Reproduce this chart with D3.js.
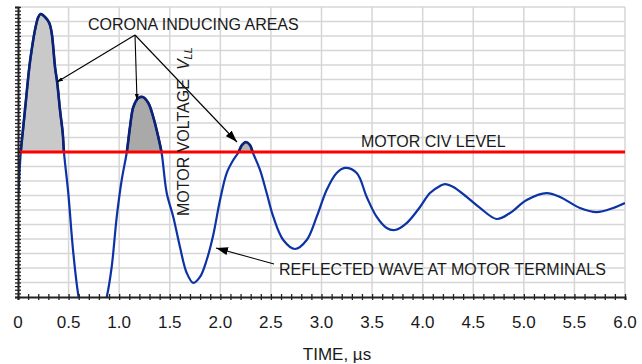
<!DOCTYPE html>
<html>
<head>
<meta charset="utf-8">
<script src="https://cdn.jsdelivr.net/npm/d3@7"></script>
<style>
  body { margin: 0; background: #fff; }
  svg text { font-family: "Liberation Sans", Arial, sans-serif; fill: #1a1a1a; }
  .grid line { stroke: #d6d6d6; stroke-width: 1.5; }
  .axis path, .axis line { stroke: #222; }
  .axis path { stroke-width: 2; }
  .axis line { stroke-width: 1.3; }
</style>
</head>
<body>
<div id="chart"></div>
<script>
// waveform: time in µs, voltage in per-unit (CIV = 1.0)
let times = [0, 0.027, 0.052, 0.079, 0.112, 0.135, 0.168, 0.201, 0.224, 0.267, 0.309, 0.333,
    0.366, 0.388, 0.415, 0.442, 0.455, 0.497, 0.544, 0.596, 0.66, 0.73, 0.80, 0.877,
    0.926, 0.976, 1.025, 1.074, 1.107, 1.140, 1.189, 1.233, 1.288, 1.337, 1.387, 1.420,
    1.470, 1.535, 1.601, 1.668, 1.733, 1.799, 1.865, 1.930, 1.997, 2.063, 2.128, 2.175,
    2.214, 2.254, 2.293, 2.323, 2.392, 2.458, 2.524, 2.622, 2.738, 2.854, 2.952, 3.051,
    3.150, 3.232, 3.348, 3.447, 3.546, 3.644, 3.726, 3.842, 3.974, 4.072, 4.171, 4.221,
    4.303, 4.435, 4.567, 4.732, 4.863, 5.028, 5.226, 5.357, 5.555, 5.720, 5.884, 6.0];
let voltages = [0.648, 0.993, 1.172, 1.359, 1.586, 1.703, 1.841, 1.931, 1.952, 1.931, 1.890, 1.821,
    1.586, 1.476, 1.290, 1.131, 0.993, 0.717, 0.324, 0.014, -0.20, -0.28, -0.18, 0.0,
    0.207, 0.552, 0.807, 0.993, 1.172, 1.310, 1.372, 1.379, 1.338, 1.241, 1.103, 0.993,
    0.717, 0.552, 0.345, 0.166, 0.097, 0.138, 0.255, 0.428, 0.669, 0.855, 0.945, 0.993,
    1.048, 1.069, 1.048, 0.993, 0.876, 0.717, 0.552, 0.393, 0.331, 0.393, 0.552, 0.738,
    0.855, 0.890, 0.855, 0.690, 0.552, 0.476, 0.462, 0.510, 0.621, 0.717, 0.766, 0.779,
    0.759, 0.690, 0.614, 0.538, 0.579, 0.669, 0.717, 0.690, 0.614, 0.586, 0.614, 0.648];

let civLevel = 1.0;
let xTicks = [0, 0.5, 1.0, 1.5, 2.0, 2.5, 3.0, 3.5, 4.0, 4.5, 5.0, 5.5, 6.0];
// corona peaks: time window of each shaded area and its grey
let coronaWindows = [[0, 0.6], [0.9, 1.6], [2.0, 2.5]];
let coronaGreys = ["#c9c9c9", "#a9a9a9", "#b4b4b4"];

let width = 642;
let height = 364;
let plotLeft = 18, plotRight = 625, plotTop = 7, plotBottom = 297;

let data = times.map(function (t, i) { return { t: t, v: voltages[i] }; });

let xScale = d3.scaleLinear().domain([0, 6]).range([plotLeft, plotRight]);
let yScale = d3.scaleLinear().domain([0, 2]).range([plotBottom, plotTop]);

let svg = d3.select("#chart")
    .append("svg")
    .attr("width", width)
    .attr("height", height);

let defs = svg.append("defs");
defs.append("clipPath").attr("id", "plot-clip")
    .append("rect")
    .attr("x", plotLeft).attr("y", plotTop)
    .attr("width", plotRight - plotLeft).attr("height", plotBottom - plotTop);
defs.append("clipPath").attr("id", "above-civ")
    .append("rect")
    .attr("x", plotLeft).attr("y", plotTop)
    .attr("width", plotRight - plotLeft).attr("height", yScale(civLevel) - plotTop);
coronaWindows.forEach(function (w, i) {
    defs.append("clipPath").attr("id", "peak-" + i)
        .append("rect")
        .attr("x", xScale(w[0])).attr("y", plotTop)
        .attr("width", xScale(w[1]) - xScale(w[0])).attr("height", plotBottom - plotTop);
});
// arrowheads
defs.append("marker").attr("id", "head")
    .attr("viewBox", "0 0 12 8").attr("refX", 12).attr("refY", 4)
    .attr("markerWidth", 12).attr("markerHeight", 8)
    .attr("markerUnits", "userSpaceOnUse").attr("orient", "auto")
    .append("path").attr("d", "M0,0 L12,4 L0,8 Z").attr("fill", "#000");
defs.append("marker").attr("id", "head-small")
    .attr("viewBox", "0 0 6 4").attr("refX", 6).attr("refY", 2)
    .attr("markerWidth", 6).attr("markerHeight", 4)
    .attr("markerUnits", "userSpaceOnUse").attr("orient", "auto")
    .append("path").attr("d", "M0,0 L6,2 L0,4 Z").attr("fill", "#000");

// grid
let grid = svg.append("g").attr("class", "grid");
grid.selectAll(".gx")
    .data(d3.range(1, 13).map(function (i) { return i * 0.5; }))
    .enter().append("line")
    .attr("x1", function (d) { return xScale(d); })
    .attr("x2", function (d) { return xScale(d); })
    .attr("y1", plotTop).attr("y2", plotBottom);
grid.selectAll(".gy")
    .data(d3.range(1, 21).map(function (i) { return i * 0.1; }))
    .enter().append("line")
    .attr("y1", function (d) { return yScale(d); })
    .attr("y2", function (d) { return yScale(d); })
    .attr("x1", plotLeft).attr("x2", plotRight);

// shaded corona areas
let area = d3.area()
    .x(function (d) { return xScale(d.t); })
    .y0(yScale(civLevel))
    .y1(function (d) { return yScale(d.v); })
    .curve(d3.curveCatmullRom.alpha(0.5));

let line = d3.line()
    .x(function (d) { return xScale(d.t); })
    .y(function (d) { return yScale(d.v); })
    .curve(d3.curveCatmullRom.alpha(0.5));

let shade = svg.append("g").attr("clip-path", "url(#above-civ)");
coronaWindows.forEach(function (w, i) {
    shade.append("path")
        .datum(data)
        .attr("clip-path", "url(#peak-" + i + ")")
        .attr("d", area)
        .attr("fill", coronaGreys[i]);
});

// waveform
let wave = svg.append("g").attr("clip-path", "url(#plot-clip)");
wave.append("path")
    .datum(data)
    .attr("d", line)
    .attr("fill", "none")
    .attr("stroke", "#0b33a6")
    .attr("stroke-width", 2.2)
    .attr("stroke-linejoin", "round");
svg.append("g").attr("clip-path", "url(#above-civ)")
    .append("path")
    .datum(data)
    .attr("d", line)
    .attr("fill", "none")
    .attr("stroke", "#0c2275")
    .attr("stroke-width", 2.6);

// CIV level
svg.append("line")
    .attr("x1", plotLeft).attr("x2", plotRight)
    .attr("y1", yScale(civLevel)).attr("y2", yScale(civLevel))
    .attr("stroke", "#ff0000")
    .attr("stroke-width", 3);

// axes
let xAxis = d3.axisBottom(xScale)
    .tickValues(d3.range(0, 61).map(function (i) { return i / 10; }))
    .tickSize(3)
    .tickFormat("");
let gx = svg.append("g")
    .attr("class", "axis")
    .attr("transform", "translate(0," + plotBottom + ")")
    .call(xAxis);
gx.selectAll(".tick line").attr("y1", -3).attr("y2", 3);

svg.append("g").selectAll("text")
    .data(xTicks)
    .enter().append("text")
    .attr("x", function (d) { return xScale(d); })
    .attr("y", 328)
    .attr("text-anchor", "middle")
    .attr("font-size", 17)
    .text(function (d) { return d === 0 ? "0" : d3.format(".1f")(d); });

let yAxis = d3.axisLeft(yScale)
    .tickValues(d3.range(0, 81).map(function (i) { return i * 0.025; }))
    .tickSize(3)
    .tickFormat("");
let gy = svg.append("g")
    .attr("class", "axis")
    .attr("transform", "translate(" + plotLeft + ",0)")
    .call(yAxis);
gy.selectAll(".tick line").attr("x1", -3).attr("x2", 3);

// annotations
svg.append("text")
    .attr("x", 337).attr("y", 360)
    .attr("text-anchor", "middle")
    .attr("font-size", 17)
    .text("TIME, µs");

svg.append("text")
    .attr("x", 88).attr("y", 30)
    .attr("font-size", 16)
    .text("CORONA INDUCING AREAS");

let arrowFrom = [135, 35];
let arrows = [
    { x: 57, y: 82, head: "head-small" },
    { x: 137, y: 100, head: "head-small" },
    { x: 237, y: 142, head: "head" }
];
arrows.forEach(function (a) {
    svg.append("line")
        .attr("x1", arrowFrom[0]).attr("y1", arrowFrom[1])
        .attr("x2", a.x).attr("y2", a.y)
        .attr("stroke", "#000").attr("stroke-width", 1.1)
        .attr("marker-end", "url(#" + a.head + ")");
});

svg.append("line")
    .attr("x1", 274).attr("y1", 264)
    .attr("x2", 216).attr("y2", 248)
    .attr("stroke", "#000").attr("stroke-width", 1.1)
    .attr("marker-end", "url(#head)");

svg.append("text")
    .attr("x", 279).attr("y", 275)
    .attr("font-size", 16)
    .text("REFLECTED WAVE AT MOTOR TERMINALS");

svg.append("text")
    .attr("x", 361).attr("y", 147)
    .attr("font-size", 16)
    .text("MOTOR CIV LEVEL");

let vlabel = svg.append("text")
    .attr("transform", "translate(189,216) rotate(-90)")
    .attr("font-size", 16);
vlabel.append("tspan").text("MOTOR VOLTAGE");
vlabel.append("tspan").attr("dx", 9).attr("font-style", "italic").text("V");
vlabel.append("tspan").attr("font-style", "italic").attr("font-size", 11)
    .attr("dy", 3).text("LL");
</script>
</body>
</html>
